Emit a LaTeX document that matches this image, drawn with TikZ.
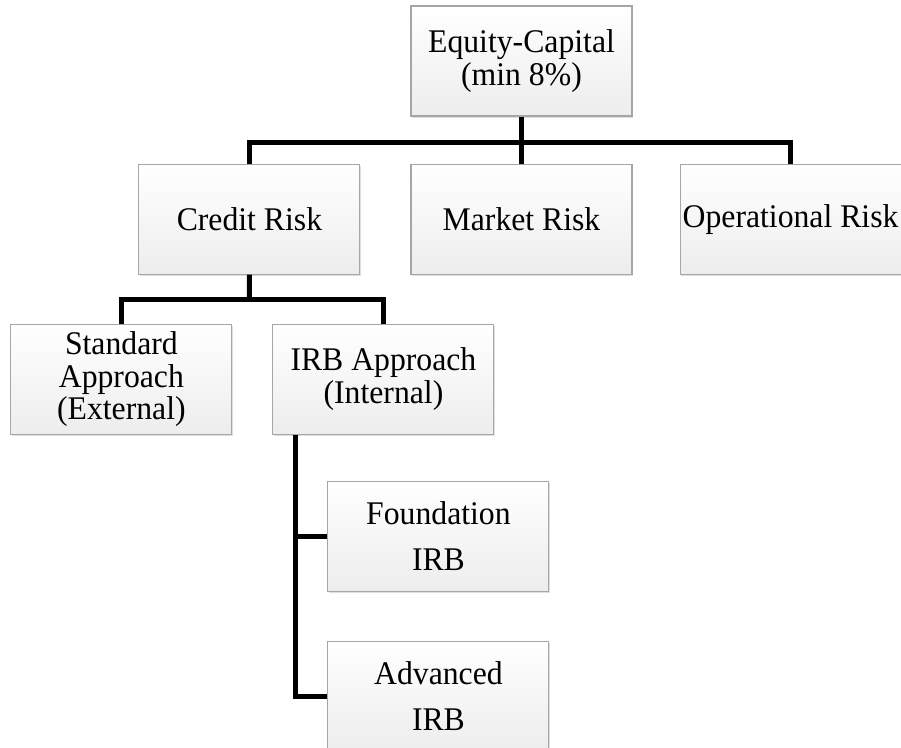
\documentclass[tikz,border=0pt]{standalone}
\usepackage{fontspec}
\setmainfont[FakeStretch=0.96]{Liberation Serif}
\usepackage{tikz}
\usetikzlibrary{positioning, calc, shadows}
\definecolor{boxborder}{HTML}{A6A6A6}
\definecolor{boxbottom}{HTML}{EDEDED}

\begin{document}
\begin{tikzpicture}[
    box/.style={
      draw=boxborder, line width=0.6pt,
      top color=white, bottom color=boxbottom,
      drop shadow={opacity=0.25, shadow xshift=0.6pt, shadow yshift=-1.2pt},
      minimum width=4.42cm, minimum height=2.2cm,
      inner sep=1pt, align=center,
      font=\fontsize{18.8}{18.6}\selectfont
    },
    link/.style={line width=2.8pt, black}
  ]

  \useasboundingbox (0,0) rectangle (18.02,-14.94);

  \node[box] (eq) at (10.43,-1.22) {Equity-Capital\\(min 8\%)};

  \node[box, below=0.94cm of eq] (market) {Market Risk};
  \node[box, left=1cm of market] (credit) {Credit Risk};
  \node[box, right=0.94cm of market] (oper) {Operational Risk};

  \node[box, below left=0.98cm and -1.88cm of credit] (std)
    {Standard\\Approach\\(External)};
  \node[box, right=0.8cm of std] (irb) {IRB Approach\\(Internal)};

  \node[box, below=0.92cm of irb.south west, anchor=north west, xshift=1.1cm] (found)
    {Foundation\\[7.5pt]IRB};
  \node[box, below=0.98cm of found] (adv) {Advanced\\[7.5pt]IRB};

  % tree connectors
  \coordinate (bar1) at ($(eq.south)!0.55!(market.north)$);
  \coordinate (bar2) at ($(credit.south)!0.5!(credit.south |- std.north)$);
  \coordinate (trunk) at ($(irb.south west)+(0.46cm,0)$);

  \draw[link] (eq) -- (market);
  \draw[link] (credit.north) |- (bar1) -| (oper.north);
  \draw[link] (credit.south) -- (bar2);
  \draw[link] (std.north) |- (bar2) -| (irb.north);
  \draw[link] (trunk) |- (found.west);
  \draw[link] (trunk) |- (adv.west);

\end{tikzpicture}
\end{document}
